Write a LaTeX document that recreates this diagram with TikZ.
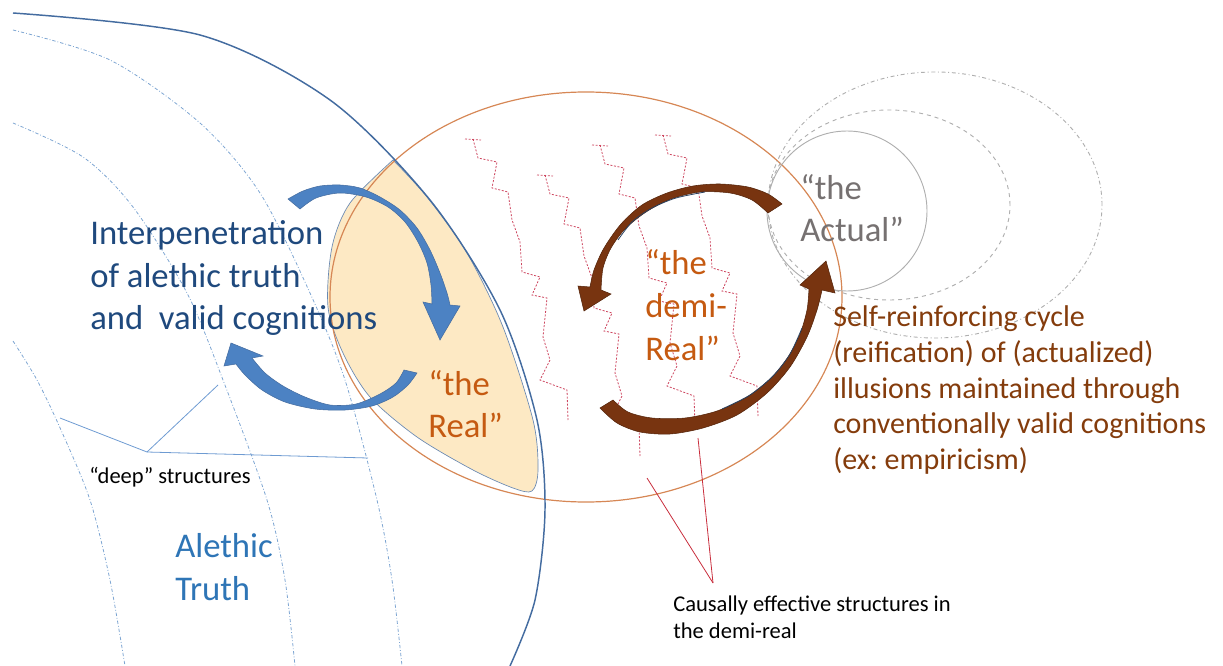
\documentclass[tikz,border=0pt]{standalone}
\usepackage{fontspec}
\setmainfont{Carlito}
\usepackage{tikz}
\usetikzlibrary{arrows}
\frenchspacing

\definecolor{circblue}{RGB}{68,108,160}
\definecolor{arcblue}{RGB}{125,165,210}
\definecolor{interpblue}{RGB}{31,73,125}
\definecolor{truthblue}{RGB}{46,117,182}
\definecolor{realorange}{RGB}{197,90,17}
\definecolor{demiring}{RGB}{214,135,85}
\definecolor{beige}{RGB}{253,233,196}
\definecolor{cyclebrown}{RGB}{132,60,12}
\definecolor{arrowbrown}{RGB}{120,52,16}
\definecolor{arrowblue}{RGB}{76,130,195}
\definecolor{actualgray}{RGB}{118,113,113}
\definecolor{ringgray}{RGB}{175,175,175}
\definecolor{causalred}{RGB}{205,70,95}
\definecolor{pointred}{RGB}{200,45,60}
\definecolor{pointblue}{RGB}{110,155,210}

\newcommand{\lblfont}{\fontsize{26}{32}\selectfont}
\newcommand{\cyclefont}{\fontsize{22.5}{26.8}\selectfont}
\newcommand{\notefont}{\fontsize{16.9}{20.3}\selectfont}

\begin{document}
\begin{tikzpicture}[x=0.75pt,y=-0.75pt,
  lbl/.style={anchor=west,align=left,inner sep=0pt},
  deeparc/.style={arcblue,line width=0.6pt,dash pattern=on 2.5pt off 1.5pt on 0.6pt off 1.5pt},
  ring/.style={ringgray,line width=0.7pt},
  causal/.style={causalred,line width=0.6pt,dash pattern=on 1.5pt off 1.2pt},
  pointer/.style={line width=0.6pt},
  bluearrow/.style={fill=arrowblue,draw=circblue,line width=0.4pt},
  brownarrow/.style={fill=arrowbrown,draw=arrowbrown!70!black,line width=0.4pt},
  sheen/.style={circblue!60!black,line width=0.6pt}]
\useasboundingbox (0,0) rectangle (1223,666);

   \draw[deeparc] plot[smooth] coordinates {(13,30) (110,60) (200,123) (260,193) (310,293) (345,380) (377,500) (392,580) (402,666)};
   \draw[deeparc] plot[smooth] coordinates {(13,123) (83,157) (133,207) (187,293) (223,380) (267,500) (285,580) (295,666)};
   \draw[deeparc] plot[smooth] coordinates {(13,341) (37,380) (61,430) (90,500) (110,580) (125,666)};

  \filldraw[fill=beige,draw=circblue!80,line width=0.5pt] plot[smooth] coordinates {(393,160) (350,203) (332,247) (328,307) (343,353) (370,397) (417,437) (473,470) (513,488) (532,491) (538,470) (533,420) (503,327) (467,253) (427,197) (393,160)} -- cycle;

  \draw[demiring,line width=0.9pt] (586,297) ellipse [x radius=192pt, y radius=153.75pt];
  \draw[circblue,line width=1.1pt] plot[smooth] coordinates {(13,13) (200,35) (330,100) (430,200) (500,310) (537,420) (545,510) (535,600) (510,666)};

	\draw[ring] (847,211) circle [radius=60pt];
	\draw[ring,dashed] (889,205) ellipse [x radius=90.75pt, y radius=71.25pt];
	\draw[ring,dash dot] (935,205) ellipse [x radius=125.25pt, y radius=99.75pt];

  \foreach \sx/\sy in {473/139,545/175,600/145,663/135}
    \draw[causal] (\sx-8,\sy) -- (\sx+8,\sy+1) (\sx,\sy) \foreach \dx/\dy in {5/19,19/4,-5/26,16/4,4/28,8/22,2/30,18/5,-8/18,15/3,-4/39,7/23,-10/20,27/10,1/30}{ -- ++(\dx,\dy)};

  \filldraw[bluearrow] plot[smooth] coordinates {(288,199) (303,191) (320,186) (340,185) (360,188) (380,197) (400,210) (417,228) (430,250) (440,273) (447,293) (450,305)}
      -- (460,306) -- (440,340) -- (423,302) -- (432,304)
      -- plot[smooth] coordinates {(432,304) (431,285) (427,263) (418,242) (405,222) (388,207) (366,197) (340,193) (316,198) (300,209)} -- cycle;
  \filldraw[bluearrow] plot[smooth] coordinates {(417,373) (408,385) (393,397) (372,406) (345,410) (315,409) (285,402) (262,390) (245,375) (236,364)}
      -- (224,366) -- (231,343) -- (263,356) -- (252,358)
      -- plot[smooth] coordinates {(252,358) (265,373) (283,386) (305,397) (330,405) (356,404) (380,394) (396,383) (404,370)} -- cycle;

  \filldraw[brownarrow] plot[smooth] coordinates {(782,204) (768,194) (748,187) (720,184) (693,186) (667,193) (642,205) (621,224) (604,248) (594,270) (590,287)}
      -- (578,286) -- (584,311) -- (611,294) -- (601,290)
      -- plot[smooth] coordinates {(601,290) (603,268) (611,248) (625,229) (646,212) (671,199) (700,192) (730,193) (752,200) (768,213)} -- cycle;
  \filldraw[brownarrow] plot[smooth] coordinates {(600,408) (617,423) (640,432) (670,434) (703,428) (737,415) (767,393) (790,367) (807,337) (817,310) (822,290)}
      -- (835,293) -- (826,261) -- (800,285) -- (809,289)
      -- plot[smooth] coordinates {(809,289) (807,310) (800,334) (788,357) (771,378) (747,397) (717,411) (685,418) (652,418) (628,412) (613,400)} -- cycle;
  \draw[sheen] plot[smooth] coordinates {(618,240) (632,222) (652,208) (676,198) (705,192)};
  \draw[sheen] plot[smooth] coordinates {(802,328) (790,354) (773,376) (750,395) (722,409)};

   \draw (90,278) node[lbl,text=interpblue,font=\lblfont] (interp) {Interpenetration\\of alethic truth\\and\ \ valid cognitions};
   \draw (428,404) node[lbl,text=realorange,font=\lblfont] (real) {“the\\Real”};
   \draw (645,305) node[lbl,text=realorange,font=\lblfont] (demireal) {“the\\demi-\\Real”};
   \draw (800,208) node[lbl,text=actualgray,font=\lblfont] (actual) {“the\\Actual”};
   \draw (833,390) node[lbl,text=cyclebrown,font=\cyclefont] (cycle) {Self-reinforcing cycle\\(reification) of (actualized)\\illusions maintained through\\conventionally valid cognitions\\(ex: empiricism)};
   \draw (175,567) node[lbl,text=truthblue,font=\lblfont] (alethic) {Alethic\\Truth};
   \draw (89,477) node[lbl,font=\notefont] (deep) {“deep” structures};
   \draw (673,617) node[lbl,font=\notefont] (causally) {Causally effective structures in\\the demi-real};

  \coordinate (deephub) at (147,452);
  \coordinate (deepa) at (60,418);
  \coordinate (deepb) at (218,385);
  \coordinate (deepc) at (368,458);
  \coordinate (causalhub) at (713,583);
  \coordinate (causala) at (647,478);
  \coordinate (causalb) at (698,438);

     \path[pointer,color=pointblue] (deephub) edge (deepa);
     \path[pointer,color=pointblue] (deephub) edge (deepb);
     \path[pointer,color=pointblue] (deephub) edge (deepc);
     \path[pointer,color=pointred] (causalhub) edge (causala);
     \path[pointer,color=pointred] (causalhub) edge (causalb);

\end{tikzpicture}
\end{document}
